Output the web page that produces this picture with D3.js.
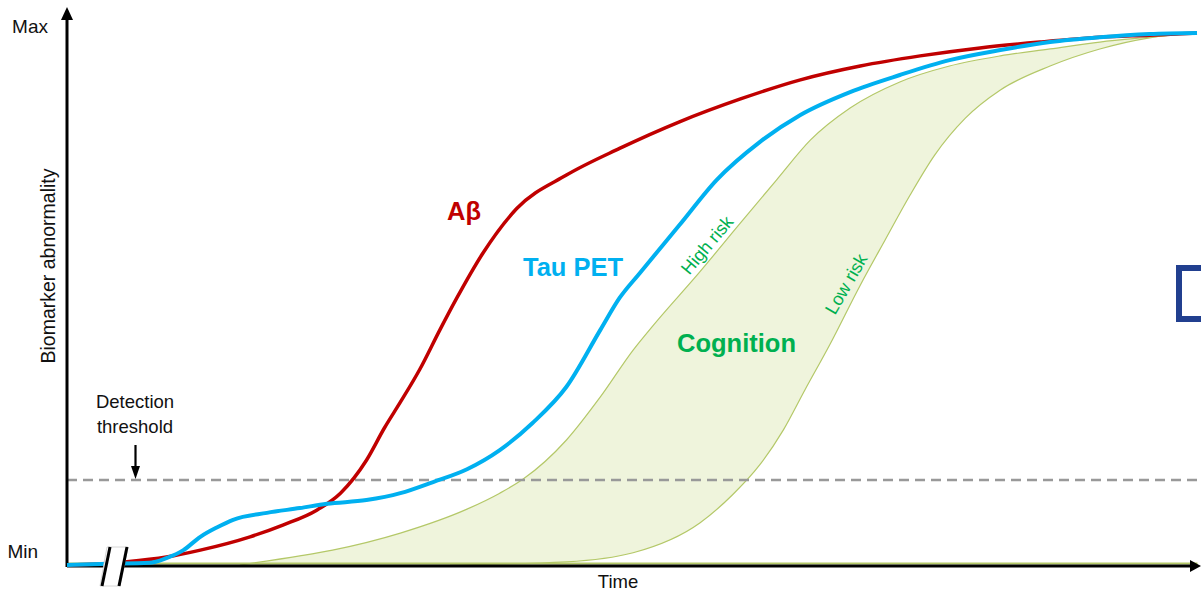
<!DOCTYPE html>
<html><head><meta charset="utf-8">
<script src="https://cdn.jsdelivr.net/npm/d3@7"></script>
<style>
body{margin:0;background:#fff}
svg{display:block}
text{font-family:"Liberation Sans",Arial,Helvetica,sans-serif}
</style>
</head><body>
<svg id="c" width="1201" height="593"></svg>
<script>
// ---- data (time 0..100, abnormality 0..100) ----
const abetaX = [0,2.9,5.3,8.8,11.8,16.2,19.1,22.1,24.2,26.5,28.1,29.5,31.2,33.0,34.5,36.8,39.8,44.2,48.9,54.2,59.6,64.9,70.2,75.5,80.8,86.1,91.4,95.8,100];
const abetaY = [0,0.2,0.6,1.5,2.8,5.3,7.5,10.3,13.5,19.7,25.8,30.6,36.7,44.2,50.2,58.6,67.0,73.3,78.3,83.3,87.6,91.2,93.8,95.7,97.2,98.3,99.2,99.6,100];

const tauX = [0,2.9,7.3,8.8,10.3,11.8,13.3,14.7,17.7,20.6,23.0,26.5,29.5,32.4,35.4,38.3,41.2,44.2,47.2,48.9,50.7,54.2,57.5,61.3,64.9,69.3,73.7,78.1,82.6,87.0,91.4,95.8,100];
const tauY = [0,0.2,0.4,1.3,2.8,5.3,7.1,8.5,9.8,10.7,11.5,12.2,13.5,15.6,18.0,21.6,26.7,33.5,44.2,50.2,54.9,63.9,72.4,79.5,84.6,88.9,92.1,94.9,96.8,98.3,99.2,99.8,100];

const highRiskX = [15.3,20.6,23.5,29.5,35.4,38.3,40.4,44.2,47.2,50.1,51.9,56.0,59.6,62.8,65.8,69.3,73.7,78.1,82.6,87.0,91.4,95.8,100];
const highRiskY = [0,1.7,2.8,6.0,10.5,13.5,16.2,23.5,31.6,40.4,45.1,55.1,64.3,72.4,79.9,85.9,90.8,93.8,95.7,97.0,98.3,99.2,100];

const lowRiskX = [33.9,44.2,50.1,56.0,58.9,61.3,63.4,65.3,67.5,70.2,72.4,74.6,76.8,79.5,82.6,87.0,91.4,95.8,100];
const lowRiskY = [0,0.6,2.3,7.9,13.2,18.8,25.4,32.9,41.4,52.6,61.1,69.5,77.1,84.0,89.3,93.8,97.0,99.1,100];

const thresholdValue = 16;
const yTickValues = [0,100];
const yTickLabels = ["Min","Max"];
const labels = {abeta:"Aβ", tau:"Tau PET", cog:"Cognition", high:"High risk", low:"Low risk",
  xTitle:"Time", yTitle:"Biomarker abnormality", det1:"Detection", det2:"threshold"};

// ---- drawing ----
const svg = d3.select("#c");
const x = d3.scaleLinear().domain([0,100]).range([67,1197]);
const y = d3.scaleLinear().domain([0,100]).range([565,33]);
const zip = (a,b)=>a.map((v,i)=>[v,b[i]]);
const line = d3.line().x(d=>x(d[0])).y(d=>y(d[1])).curve(d3.curveMonotoneX);

const RED="#c00000", BLUE="#00b0f0", GREEN="#00b050", FILL="#eff4dc", OLIVE="#b4c868";

// cognition band
const hi = zip(highRiskX, highRiskY), lo = zip(lowRiskX, lowRiskY);
const bandPath = line(hi) + line(lo.slice().reverse()).replace(/^M/,"L") + "Z";
svg.append("path").attr("d", bandPath).attr("fill", FILL).attr("stroke","none");
svg.append("path").attr("d", line(hi)).attr("fill","none").attr("stroke",OLIVE).attr("stroke-width",1.2);
svg.append("path").attr("d", line(lo)).attr("fill","none").attr("stroke",OLIVE).attr("stroke-width",1.2);

// threshold
svg.append("line").attr("x1",x(0)).attr("x2",1201).attr("y1",y(thresholdValue)).attr("y2",y(thresholdValue))
  .attr("stroke","#999").attr("stroke-width",2.5).attr("stroke-dasharray","10,6");

// axes
const yAxis = d3.axisLeft(y).tickValues(yTickValues).tickFormat((d,i)=>yTickLabels[i]).tickSize(0).tickPadding(22);
const gy = svg.append("g").attr("transform",`translate(${x(0)},0)`).call(yAxis);
gy.select(".domain").remove();
gy.selectAll("text").attr("font-size",19).attr("fill","#111")
  .style("font-family",'"Liberation Sans",Arial,sans-serif')
  .attr("dy",(d)=> d===0 ? "-0.37em" : "-0.05em")
  .attr("x",(d)=> d===0 ? -29 : -19);

const xAxis = d3.axisBottom(x).tickValues([]).tickSizeOuter(0);
const gx = svg.append("g").attr("transform",`translate(0,${y(0)-2})`).call(xAxis);
gx.select(".domain").attr("stroke",OLIVE).attr("stroke-width",2);

// axis lines with arrows
svg.append("line").attr("x1",x(0)).attr("x2",1192).attr("y1",y(0)+1).attr("y2",y(0)+1).attr("stroke","#000").attr("stroke-width",3);
svg.append("path").attr("d",`M1190,${y(0)-5}L1201,${y(0)+1}L1190,${y(0)+7}Z`).attr("fill","#000");
svg.append("line").attr("x1",x(0)).attr("x2",x(0)).attr("y1",y(0)+2).attr("y2",18).attr("stroke","#000").attr("stroke-width",3);
svg.append("path").attr("d",`M${x(0)-6},20L${x(0)},7L${x(0)+6},20Z`).attr("fill","#000");

// curves
svg.append("path").attr("d", line(zip(abetaX,abetaY))).attr("fill","none").attr("stroke",RED).attr("stroke-width",3.5);
svg.append("path").attr("d", line(zip(tauX,tauY))).attr("fill","none").attr("stroke",BLUE).attr("stroke-width",4);

// axis break
svg.append("path").attr("d","M107,547L128,547L120,586L100,586Z").attr("fill","#fff").attr("stroke","#ccc").attr("stroke-width",0.8);
svg.append("line").attr("x1",110).attr("y1",547).attr("x2",102).attr("y2",586).attr("stroke","#000").attr("stroke-width",3);
svg.append("line").attr("x1",127).attr("y1",547).attr("x2",119).attr("y2",586).attr("stroke","#000").attr("stroke-width",3);

// detection threshold annotation
svg.append("text").attr("x",135).attr("y",408).attr("text-anchor","middle").attr("font-size",18.5).attr("fill","#111").text(labels.det1);
svg.append("text").attr("x",135).attr("y",433).attr("text-anchor","middle").attr("font-size",18.5).attr("fill","#111").text(labels.det2);
svg.append("line").attr("x1",135.5).attr("x2",135.5).attr("y1",445).attr("y2",468).attr("stroke","#000").attr("stroke-width",2.2);
svg.append("path").attr("d","M131,466L135.5,479L140,466Z").attr("fill","#000");

// axis titles
svg.append("text").attr("x",618).attr("y",588).attr("text-anchor","middle").attr("font-size",18.5).attr("fill","#111").text(labels.xTitle);
svg.append("text").attr("transform","translate(55,266) rotate(-90)").attr("text-anchor","middle").attr("font-size",19.5).attr("fill","#111").text(labels.yTitle);

// curve labels
svg.append("text").attr("x",447).attr("y",220).attr("font-size",25.5).attr("font-weight","bold").attr("fill",RED).text(labels.abeta);
svg.append("text").attr("x",523).attr("y",276).attr("font-size",25.5).attr("font-weight","bold").attr("fill",BLUE).text(labels.tau);
svg.append("text").attr("x",677).attr("y",352).attr("font-size",25.5).attr("font-weight","bold").attr("fill",GREEN).text(labels.cog);
svg.append("text").attr("transform","translate(707,245) rotate(-50)").attr("text-anchor","middle").attr("dy","0.35em").attr("font-size",18).attr("fill",GREEN).text(labels.high);
svg.append("text").attr("transform","translate(846,284) rotate(-60)").attr("text-anchor","middle").attr("dy","0.35em").attr("font-size",18).attr("fill",GREEN).text(labels.low);

// partial blue box at right edge
svg.append("rect").attr("x",1179).attr("y",268).attr("width",40).attr("height",51).attr("fill","none").attr("stroke","#213f8f").attr("stroke-width",6);
</script>
</body></html>
